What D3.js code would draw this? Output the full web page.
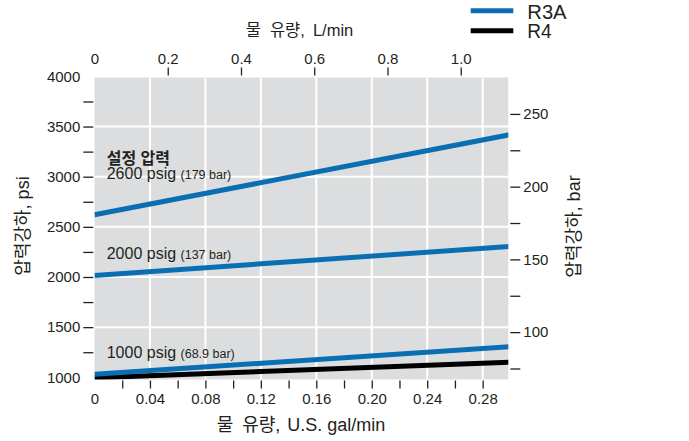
<!DOCTYPE html>
<html><head><meta charset="utf-8">
<script src="https://cdn.jsdelivr.net/npm/d3@7"></script>
<style>
html,body{margin:0;padding:0;background:#fff;}
text{font-family:"Liberation Sans",Arial,"Noto Sans CJK KR",sans-serif;fill:#231f20;}
</style></head>
<body><svg id="c" width="689" height="441"></svg>
<script>
// ---- data ----
const flowGal = [0, 0.30];                 // U.S. gal/min
const r3a2600 = [2620, 3420];              // psi
const r3a2000 = [2015, 2305];
const r3a1000 = [1030, 1305];
const r4_1000 = [995, 1150];
const galTicksLabeled = [0, 0.04, 0.08, 0.12, 0.16, 0.20, 0.24, 0.28];
const galTicksMarks = [0.02,0.04,0.06,0.08,0.10,0.12,0.14,0.16,0.18,0.20,0.22,0.24,0.26,0.28];
const lminLabels = [0, 0.2, 0.4, 0.6, 0.8, 1.0];
const lminMarks = [0.2, 0.4, 0.6, 0.8, 1.0];
const psiLabels = [1000,1500,2000,2500,3000,3500,4000];
const psiMarks = [1250,1500,1750,2000,2250,2500,2750,3000,3250,3500,3750];
const psiGrid = [1500,2000,2500,3000,3500];
const barLabels = [100,150,200,250];
const barMarks = [75,100,125,150,175,200,225,250];
const annotations = [
  {psi:3000, big:"2600 psig", small:"(179 bar)"},
  {psi:2000, big:"2000 psig", small:"(137 bar)"},
  {psi:1000, big:"1000 psig", small:"(68.9 bar)"}
];
const series = [
  {name:"R4", color:"#000000", vals:r4_1000},
  {name:"R3A", color:"#0a6fb2", vals:r3a1000},
  {name:"R3A", color:"#0a6fb2", vals:r3a2000},
  {name:"R3A", color:"#0a6fb2", vals:r3a2600}
];
const legend = [{name:"R3A", color:"#0a6fb2"},{name:"R4", color:"#000000"}];

// ---- scales ----
const L_PER_GAL = 3.78541, PSI_PER_BAR = 14.5038;
const xMax = 0.2985;
const x = d3.scaleLinear().domain([0, xMax]).range([94.5, 508.3]);
const xTop = d3.scaleLinear().domain([0, xMax*L_PER_GAL]).range([94.5, 508.3]);
const y = d3.scaleLinear().domain([1000, 4000]).range([377.3, 76.4]);
const yBar = d3.scaleLinear().domain([1000/PSI_PER_BAR, 4000/PSI_PER_BAR]).range([377.3, 76.4]);
const plotTop = 77.5, plotBottom = 379.5;

const svg = d3.select("#c");
const ink = "#231f20";

svg.append("defs").append("clipPath").attr("id","clip")
  .append("rect").attr("x", x(0)).attr("y", plotTop).attr("width", x(xMax)-x(0)).attr("height", plotBottom-plotTop);

svg.append("rect").attr("x", x(0)).attr("y", plotTop).attr("width", x(xMax)-x(0)).attr("height", plotBottom-plotTop)
  .attr("fill","#dcdddf");

// grid
const g = svg.append("g");
g.selectAll(".vg").data(galTicksLabeled.filter(d=>d>0)).join("line")
  .attr("x1", d=>x(d)).attr("x2", d=>x(d)).attr("y1", plotTop).attr("y2", plotBottom)
  .attr("stroke","#fff").attr("stroke-width",2);
g.selectAll(".hg").data(psiGrid).join("line")
  .attr("x1", x(0)).attr("x2", x(xMax)).attr("y1", d=>y(d)).attr("y2", d=>y(d))
  .attr("stroke","#fff").attr("stroke-width",2);

// lines
const line = d3.line().x((d,i)=>x(flowGal[i])).y(d=>y(d));
svg.append("g").attr("clip-path","url(#clip)").selectAll("path").data(series).join("path")
  .attr("d", d=>line(d.vals)).attr("fill","none").attr("stroke", d=>d.color).attr("stroke-width",5);

function styleAxis(sel){
  sel.select(".domain").remove();
  sel.selectAll(".tick line").attr("stroke", ink).attr("stroke-width",1.3);
  sel.selectAll("text").attr("font-size",15).attr("fill",ink)
    .attr("font-family",'"Liberation Sans",Arial,sans-serif');
}

// left axis
svg.append("g").attr("transform","translate(93.3,0)")
  .call(d3.axisLeft(y).tickValues(psiMarks).tickSize(10).tickFormat(""))
  .call(styleAxis);
svg.append("g").attr("transform","translate(93.3,0)")
  .call(d3.axisLeft(y).tickValues(psiLabels).tickSize(0).tickPadding(13).tickFormat(d3.format("d")))
  .call(styleAxis);

// right axis
svg.append("g").attr("transform","translate(510.3,0)")
  .call(d3.axisRight(yBar).tickValues(barMarks).tickSize(10).tickFormat(""))
  .call(styleAxis);
svg.append("g").attr("transform","translate(510.3,0)")
  .call(d3.axisRight(yBar).tickValues(barLabels).tickSize(0).tickPadding(13).tickFormat(d3.format("d")))
  .call(styleAxis);

// bottom axis
svg.append("g").attr("transform","translate(0,380.5)")
  .call(d3.axisBottom(x).tickValues(galTicksMarks).tickSize(8).tickFormat(""))
  .call(styleAxis);
const bx = svg.append("g").attr("transform","translate(0,380.5)")
  .call(d3.axisBottom(x).tickValues(galTicksLabeled).tickSize(0).tickFormat(d=>d===0?"0":d3.format(".2f")(d)))
  .call(styleAxis);
bx.selectAll("text").attr("y",23).attr("dy",null);

// top axis
svg.append("g").attr("transform","translate(0,75.5)")
  .call(d3.axisTop(xTop).tickValues(lminMarks).tickSize(8).tickFormat(""))
  .call(styleAxis);
const tx = svg.append("g").attr("transform","translate(0,75.5)")
  .call(d3.axisTop(xTop).tickValues(lminLabels).tickSize(0).tickFormat(d=>d===0?"0":d3.format(".1f")(d)))
  .call(styleAxis);
tx.selectAll("text").attr("y",-12).attr("dy",null);

// titles
const kfont = '"Liberation Sans",Arial,"Noto Sans CJK KR",sans-serif';
function title(xp, yp, size, parts, gaps){
  const t = svg.append("text").attr("x",xp).attr("y",yp).attr("text-anchor","middle")
    .attr("font-size",size).attr("font-family",kfont);
  parts.forEach((p,i)=>t.append("tspan").attr("dx", i===0?0:gaps[i-1]).text(p));
  return t;
}
title(299.5, 36, 16.5, ["물","유량,","L/min"], [9, 8]);
title(301, 431, 18, ["물","유량,","U.S. gal/min"], [9, 7]);
svg.append("text").attr("transform","translate(29,226) rotate(-90)").attr("text-anchor","middle")
  .attr("font-size",18).attr("font-family",kfont).text("압력강하, psi");
svg.append("text").attr("transform","translate(580,226.5) rotate(-90)").attr("text-anchor","middle")
  .attr("font-size",18).attr("font-family",kfont).text("압력강하, bar");

// annotations
svg.append("text").attr("x",106.7).attr("y",164).attr("font-size",16).attr("font-weight","bold")
  .attr("font-family",kfont).text("설정 압력");
const annY = {3000:179.3, 2000:259, 1000:358.3};
annotations.forEach(a=>{
  const t = svg.append("text").attr("x",106.7).attr("y",annY[a.psi]).attr("font-size",16);
  t.append("tspan").text(a.big+" ");
  t.append("tspan").attr("font-size",12.5).text(a.small);
});

// legend
const lg = svg.append("g");
legend.forEach((d,i)=>{
  lg.append("line").attr("x1",470.7).attr("x2",513.3).attr("y1",10.7+i*20).attr("y2",10.7+i*20)
    .attr("stroke",d.color).attr("stroke-width",5);
  lg.append("text").attr("x",527.3).attr("y",18.6+i*19).attr("font-size",20.5)
    .attr("textLength", i===0?39.3:24.4).attr("lengthAdjust","spacingAndGlyphs").text(d.name);
});
</script></body></html>
